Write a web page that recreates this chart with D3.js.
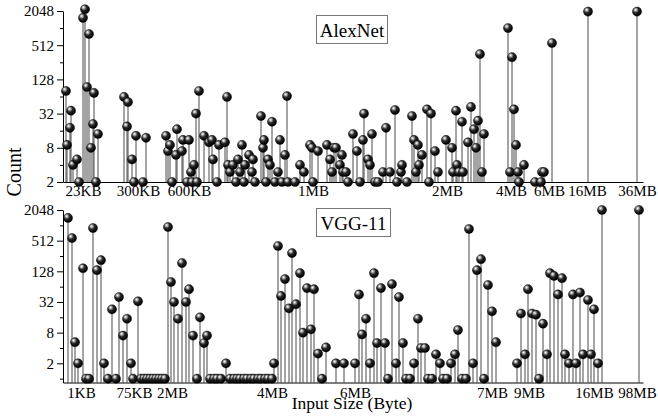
<!DOCTYPE html>
<html>
<head>
<meta charset="utf-8">
<script src="https://cdnjs.cloudflare.com/ajax/libs/d3/7.8.5/d3.min.js"></script>
<style>
  html, body { margin: 0; padding: 0; background: #fff; }
  svg { display: block; }
  svg text { font-family: 'Liberation Serif', 'Times New Roman', serif !important; }
</style>
</head>
<body>
<div id="chart"></div>
<script>
// positions along the (ordinal) input-size axis, 0..580
const alexPos = [3,4,7,8,10,14,16,20,22,24,26,28,30,31,33,35,61,64,65,69,71,73,80,83,103,105,107,109,113,114,119,120,124,126,128,129,131,133,134,136,141,146,149,150,154,156,162,164,165,167,170,173,175,177,179,181,182,186,189,190,192,198,200,201,203,205,207,209,212,215,217,219,222,224,225,232,237,241,247,249,250,255,264,267,269,271,273,277,279,280,283,285,290,294,297,300,301,305,307,309,312,315,320,323,327,332,334,338,339,344,349,351,353,355,356,359,364,366,368,372,375,383,389,390,393,394,396,399,400,405,408,411,413,415,417,419,421,445,447,449,451,453,455,456,461,472,478,479,481,489,525,574];
const alexCount = [80,9,18,36,4,5,2,1550,2200,94,806,8,21,74,2,14,63,19,51,5,2,13,2,12,13,7,9,2,6,17,7,11,2,11,3,2,4,32,2,80,13,10,11,5,2,9,10,63,4,3,4,2,5,3,9,2,4,6,3,5,2,29,8,11,2,5,4,23,2,3,11,2,6,65,2,2,4,3,9,8,2,7,9,5,3,8,8,4,6,3,3,2,14,7,2,11,32,5,4,14,2,2,3,18,3,37,2,3,4,2,29,11,3,9,4,6,38,2,32,7,3,11,8,3,36,4,3,23,3,10,42,17,8,24,357,3,14,1024,3,315,38,9,3,2,4,2,2,3,3,560,2000,2000];

const vggPos = [5,9,12,15,20,23,26,30,34,38,41,45,49,53,56,60,64,68,70,75,78,81,84,87,90,93,96,99,102,105,108,111,115,119,123,126,130,134,137,141,144,147,151,154,158,163,167,171,174,177,181,184,188,191,195,198,202,205,209,211,215,218,222,226,229,233,237,240,244,248,251,255,259,263,273,281,292,296,299,303,307,311,314,318,322,325,329,333,336,340,343,347,351,355,358,362,365,369,373,377,380,384,388,392,395,399,403,406,410,414,418,421,425,429,433,454,458,462,465,469,473,476,480,484,487,491,495,499,502,506,510,513,517,520,525,528,531,535,539,576];
const vggCount = [1430,576,5.2,2,147,1,1,905,135,212,2,1,23,1,40,7,15,2,1,33,1,1,1,1,1,1,1,1,1,950,79,32,15,186,32,57,7,1,16,5,7,1,1,1,1,2,1,1,1,1,1,1,1,1,1,1,1,1,1,2,402,42,90,24,292,29,118,8,60,9.3,57,3.1,1,4.1,2,2,2,45,7.4,15,2,118,5,60,5,1,72,2,40,5,1,1,2,15,4,4,1,1,3,2,1,1,2,3,9,1,1,867,2,135,222,1,69,21,5.2,2,19,3,57,19,18,1,12,3,118,104,45,94,3,2,45,2,49,3,35,3,23,2,2048,2048];

const alexTickPos = [20,75,126,250,384,448,486,524,574];
const alexTickLabels = ['23KB','300KB','600KB','1MB','2MB','4MB','6MB','16MB','36MB'];
const vggTickPos = [18,71,109,209,292,429,466,531,574];
const vggTickLabels = ['1KB','75KB','2MB','4MB','6MB','7MB','9MB','16MB','98MB'];

const yMajor = [2,8,32,128,512,2048];
const yMinorTop = [4,16,64,256,1024];
const yMinorBot = [1,4,16,64,256,1024];

const W = 658, H = 419;
const svg = d3.select('#chart').append('svg').attr('width', W).attr('height', H);

const defs = svg.append('defs');
const grad = defs.append('radialGradient').attr('id', 'ball')
  .attr('cx', '0.38').attr('cy', '0.34').attr('r', '0.62')
  .attr('fx', '0.34').attr('fy', '0.3');
grad.append('stop').attr('offset', '0').attr('stop-color', '#ffffff');
grad.append('stop').attr('offset', '0.18').attr('stop-color', '#bdbdbd');
grad.append('stop').attr('offset', '0.5').attr('stop-color', '#2a2a2a');
grad.append('stop').attr('offset', '1').attr('stop-color', '#000000');

const x = d3.scaleLinear().domain([0, 580]).range([63, 643]);

function panel(pos, cnt, yScale, minor, tickPos, tickLabels, labelPad, title, box) {
  const base = yScale.range()[0];
  const g = svg.append('g');

  // stems
  g.selectAll('line.stem').data(pos).enter().append('line')
    .attr('x1', d => x(d)).attr('x2', d => x(d))
    .attr('y1', base).attr('y2', (d, i) => yScale(cnt[i]))
    .attr('stroke', '#4a4a4a').attr('stroke-width', 1);

  // y axis
  const ya = g.append('g').attr('transform', `translate(${x(0)},0)`)
    .call(d3.axisLeft(yScale).tickValues(yMajor).tickFormat(d3.format('d'))
      .tickSize(6).tickSizeOuter(0).tickPadding(3));
  ya.selectAll('text').attr('font-size', 15).attr('fill', '#000');
  ya.selectAll('line, path').attr('stroke', '#000');
  const ym = g.append('g').attr('transform', `translate(${x(0)},0)`)
    .call(d3.axisLeft(yScale).tickValues(minor).tickFormat('').tickSize(3).tickSizeOuter(0));
  ym.select('path').remove();
  ym.selectAll('line').attr('stroke', '#000');

  // x axis
  const xa = g.append('g').attr('transform', `translate(0,${base})`)
    .call(d3.axisBottom(x).tickValues(tickPos).tickFormat((d, i) => tickLabels[i])
      .tickSize(0).tickSizeOuter(0).tickPadding(labelPad));
  xa.selectAll('text').attr('font-size', 15).attr('fill', '#000');
  xa.select('path').attr('stroke', '#000').attr('stroke-width', 1.2);

  // balls
  g.selectAll('circle').data(pos).enter().append('circle')
    .attr('cx', d => x(d)).attr('cy', (d, i) => yScale(cnt[i]))
    .attr('r', 4.6).attr('fill', 'url(#ball)')
    .attr('stroke', '#000').attr('stroke-width', 0.4);

  // title box
  g.append('rect').attr('x', box[0]).attr('y', box[1]).attr('width', box[2]).attr('height', box[3])
    .attr('fill', '#fff').attr('stroke', '#777').attr('stroke-width', 1);
  g.append('text').attr('x', box[0] + box[2] / 2).attr('y', box[1] + box[3] - 7)
    .attr('text-anchor', 'middle').attr('font-size', 19).text(title);
}

const yTop = d3.scaleLog().base(2).domain([2, 2048]).range([182, 11]);
const yBot = d3.scaleLog().base(2).domain([0.84, 2048]).range([382.5, 210]);

panel(alexPos, alexCount, yTop, yMinorTop, alexTickPos, alexTickLabels, 3.5, 'AlexNet', [316.5, 15.5, 71, 28]);
panel(vggPos, vggCount, yBot, yMinorBot, vggTickPos, vggTickLabels, 4.5, 'VGG-11', [316.5, 208.5, 74, 28]);

svg.append('text').attr('x', 352).attr('y', 409).attr('text-anchor', 'middle')
  .attr('font-size', 17.5).text('Input Size (Byte)');
svg.append('text').attr('transform', 'translate(21,172) rotate(-90)')
  .attr('text-anchor', 'middle').attr('font-size', 20).text('Count');
</script>
</body>
</html>
